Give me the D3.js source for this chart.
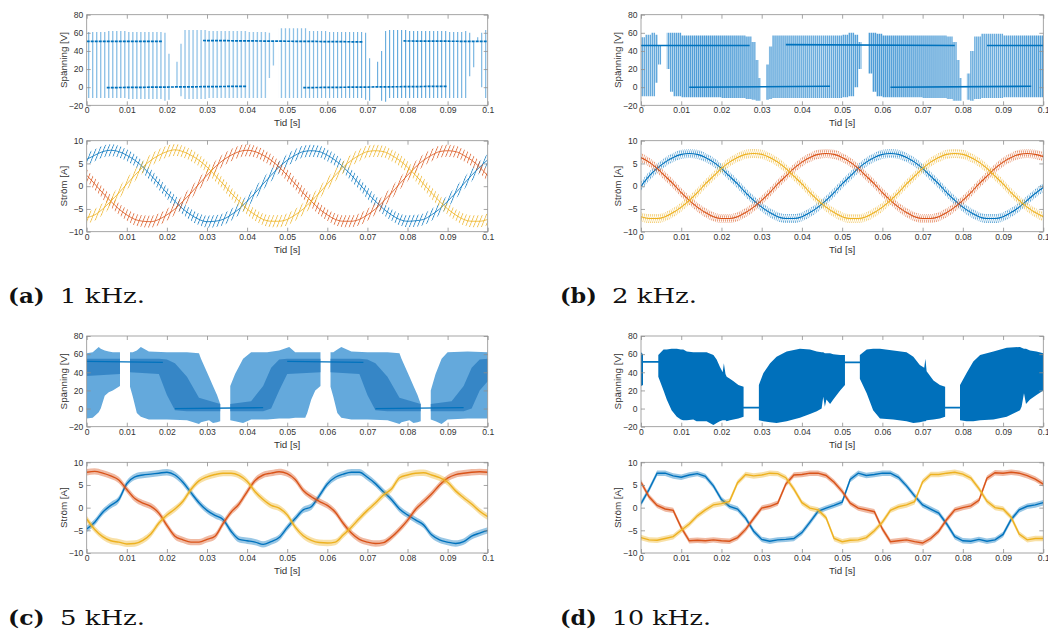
<!DOCTYPE html>
<html>
<head>
<meta charset="utf-8">
<script src="https://cdn.jsdelivr.net/npm/d3@7/dist/d3.min.js"></script>
<style>
  html, body { margin: 0; padding: 0; background: #fff; }
  svg { display: block; }
</style>
</head>
<body>
<svg id="fig" width="1048" height="631"></svg>
<script>
// ---------- axes ----------
const timeTicks = [0, 0.01, 0.02, 0.03, 0.04, 0.05, 0.06, 0.07, 0.08, 0.09, 0.1];
const timeTickLabels = ["0", "0.01", "0.02", "0.03", "0.04", "0.05", "0.06", "0.07", "0.08", "0.09", "0.1"];
const voltTicks = [-20, 0, 20, 40, 60, 80];
const currTicks = [-10, -5, 0, 5, 10];

// ---------- phase currents, sampled every 2 ms ----------
const tSamples = [0, 0.002, 0.004, 0.006, 0.008, 0.01, 0.012, 0.014, 0.016, 0.018, 0.02, 0.022, 0.024, 0.026, 0.028, 0.03, 0.032, 0.034, 0.036, 0.038, 0.04, 0.042, 0.044, 0.046, 0.048, 0.05, 0.052, 0.054, 0.056, 0.058, 0.06, 0.062, 0.064, 0.066, 0.068, 0.07, 0.072, 0.074, 0.076, 0.078, 0.08, 0.082, 0.084, 0.086, 0.088, 0.09, 0.092, 0.094, 0.096, 0.098, 0.1];

// (a) 1 kHz
const iA_blue = [5.9, 6.8, 7.6, 7.9, 7.6, 6.8, 5.7, 4.2, 2.4, 0.5, -1.5, -3.3, -5.0, -6.3, -7.3, -7.8, -7.7, -7.3, -6.3, -5.0, -3.3, -1.5, 0.5, 2.4, 4.2, 5.7, 6.8, 7.6, 7.8, 7.6, 6.8, 5.7, 4.2, 2.4, 0.5, -1.5, -3.3, -5.0, -6.3, -7.3, -7.7, -7.6, -7.3, -6.3, -5.0, -3.3, -1.5, 0.5, 2.4, 4.2, 5.8];
const iA_orange = [2.4, 0.5, -1.5, -3.3, -5.0, -6.3, -7.3, -7.7, -7.8, -7.3, -6.3, -5.0, -3.3, -1.5, 0.5, 2.4, 4.2, 5.7, 6.8, 7.6, 7.9, 7.6, 6.8, 5.7, 4.2, 2.4, 0.5, -1.5, -3.3, -5.0, -6.3, -7.3, -7.7, -7.7, -7.3, -6.3, -5.0, -3.3, -1.5, 0.5, 2.4, 4.2, 5.7, 6.8, 7.6, 7.8, 7.6, 6.8, 5.7, 4.2, 2.3];
const iA_yellow = [-6.9, -6.3, -5.0, -3.3, -1.5, 0.5, 2.4, 4.2, 5.7, 6.8, 7.6, 8.0, 7.6, 6.8, 5.7, 4.2, 2.4, 0.5, -1.5, -3.3, -5.0, -6.3, -7.3, -7.7, -7.7, -7.3, -6.3, -5.0, -3.3, -1.5, 0.5, 2.4, 4.2, 5.7, 6.8, 7.6, 7.8, 7.6, 6.8, 5.7, 4.2, 2.4, 0.5, -1.5, -3.3, -5.0, -6.3, -7.3, -7.7, -7.7, -7.3];

// (b) 2 kHz
const iB_blue = [0.0, 2.2, 3.9, 5.3, 6.3, 7.0, 7.2, 7.0, 6.3, 5.3, 3.9, 2.2, 0.5, -1.4, -3.1, -4.6, -5.8, -6.7, -7.1, -7.1, -6.7, -5.8, -4.6, -3.1, -1.4, 0.5, 2.2, 3.9, 5.3, 6.3, 7.0, 7.2, 7.0, 6.3, 5.3, 3.9, 2.2, 0.5, -1.4, -3.1, -4.6, -5.8, -6.7, -7.1, -7.1, -6.7, -5.8, -4.6, -3.1, -1.6, -0.3];
const iB_orange = [6.3, 5.3, 3.9, 2.2, 0.5, -1.4, -3.1, -4.6, -5.8, -6.7, -7.1, -7.1, -6.7, -5.8, -4.6, -3.1, -1.4, 0.5, 2.2, 3.9, 5.3, 6.3, 7.0, 7.2, 7.0, 6.3, 5.3, 3.9, 2.2, 0.5, -1.4, -3.1, -4.6, -5.8, -6.7, -7.1, -7.1, -6.7, -5.8, -4.6, -3.1, -1.4, 0.5, 2.2, 3.9, 5.3, 6.3, 7.0, 7.2, 7.0, 6.5];
const iB_yellow = [-6.7, -7.1, -7.1, -6.7, -5.8, -4.6, -3.1, -1.4, 0.5, 2.2, 3.9, 5.3, 6.3, 7.0, 7.2, 7.0, 6.3, 5.3, 3.9, 2.2, 0.5, -1.4, -3.1, -4.6, -5.8, -6.7, -7.1, -7.1, -6.7, -5.8, -4.6, -3.1, -1.4, 0.5, 2.2, 3.9, 5.3, 6.3, 7.0, 7.2, 7.0, 6.3, 5.3, 3.9, 2.2, 0.5, -1.4, -3.1, -4.6, -5.8, -6.7];

// (c) 5 kHz
const iC_blue = [-4.7, -3.2, -1.0, 0.5, 1.8, 5.3, 6.8, 7.2, 7.4, 7.6, 7.8, 7.2, 5.6, 3.3, 1.1, -0.6, -1.7, -2.6, -5.2, -7.0, -7.3, -7.6, -8.1, -7.5, -6.6, -4.4, -2.4, -0.5, 0.2, 2.6, 5.2, 6.7, 7.4, 7.8, 7.8, 6.7, 5.3, 3.5, 1.8, -0.3, -1.6, -2.7, -3.8, -6.0, -7.1, -7.6, -7.9, -7.5, -6.3, -5.6, -5.0];
const iC_orange = [7.8, 8.0, 7.6, 7.0, 6.1, 4.0, 2.0, 1.0, 0.3, -1.2, -3.9, -6.3, -7.1, -7.6, -7.6, -7.0, -6.3, -3.5, -1.0, 0.8, 3.5, 6.0, 7.2, 7.6, 7.9, 7.5, 6.2, 3.8, 2.4, 1.4, 0.5, -1.0, -3.5, -5.6, -7.0, -7.6, -7.9, -7.7, -6.5, -4.8, -2.8, -0.4, 1.3, 3.0, 5.0, 6.5, 7.3, 7.6, 7.8, 7.9, 7.8];
const iC_yellow = [-2.5, -4.8, -6.4, -7.3, -7.6, -8.0, -7.9, -7.2, -5.8, -3.4, -1.6, -0.3, 1.4, 4.0, 5.9, 6.8, 7.3, 7.6, 7.6, 7.1, 5.8, 3.5, 1.8, 0.5, -0.1, -1.6, -4.3, -6.2, -7.2, -7.7, -7.8, -7.6, -6.0, -4.3, -2.4, -0.6, 1.0, 2.8, 4.1, 6.6, 7.2, 7.6, 7.7, 7.2, 6.6, 5.6, 3.7, 2.2, 0.8, -0.8, -2.0];

// (d) 10 kHz
const iD_blue = [0.9, 4.0, 7.6, 7.6, 7.0, 6.7, 7.2, 7.5, 6.9, 4.8, 1.8, 0.3, -0.3, -2.3, -5.2, -7.0, -7.4, -7.1, -7.0, -6.8, -5.5, -3.2, -0.8, -0.1, 0.5, 1.2, 6.2, 7.6, 7.1, 7.3, 7.6, 7.6, 6.7, 4.8, 2.6, 0.6, -0.3, -1.2, -3.6, -6.4, -7.3, -7.4, -7.0, -7.4, -7.1, -5.9, -2.6, -0.5, 0.3, 0.6, 1.1];
const iD_orange = [5.6, 2.4, 0.5, -0.3, -0.6, -4.4, -7.3, -7.2, -7.3, -7.1, -7.3, -7.4, -6.6, -4.8, -2.4, -0.1, 0.3, 1.0, 5.2, 7.2, 7.3, 7.6, 7.6, 7.1, 5.6, 3.6, 1.0, -0.1, -0.5, -0.9, -4.7, -7.5, -7.3, -7.1, -7.5, -7.8, -6.8, -5.2, -2.6, -0.5, 0.0, 0.4, 1.6, 6.5, 7.7, 7.6, 7.8, 7.6, 7.05, 6.3, 5.2];
const iD_yellow = [-6.6, -7.1, -7.2, -6.8, -6.4, -5.0, -3.6, -1.8, -0.5, 0.6, 0.9, 1.4, 5.5, 7.3, 7.0, 7.2, 7.6, 7.5, 6.6, 4.1, 1.1, -0.1, -0.5, -2.2, -6.8, -7.5, -7.2, -7.1, -6.6, -5.1, -3.2, -0.6, 0.2, 0.6, 1.3, 5.7, 7.3, 7.3, 7.6, 7.8, 7.4, 6.5, 4.2, 1.4, 0.0, -0.3, -2.1, -5.8, -7.1, -6.8, -6.8];

// half peak-to-peak switching ripple on the currents [A]
const rippleA = [1.3, 1.0, 0.7, 0.6];

// ---------- phase voltage: pulse envelopes (top / bottom) ----------
// (a) 1 kHz, each value holds until the next instant
const vA_t = [0, 0.005, 0.0099, 0.0189, 0.0199, 0.0209, 0.0219, 0.0229, 0.0239, 0.03, 0.04, 0.0449, 0.0459, 0.0469, 0.0479, 0.055, 0.06, 0.0689, 0.0699, 0.0709, 0.0719, 0.0729, 0.0739, 0.075, 0.08, 0.09, 0.0939, 0.0949, 0.0959, 0.0969, 0.0979, 0.0989, 0.1];
const vA_top = [61, 62, 61, 60, 37, 0, 28, 48, 63, 62, 61, 60, 50, 50, 65, 62, 61, 60, 32, 0, 28, 40, 62, 63, 62, 61, 62, 60, 50, 55, 60, 63, 63];
const vA_bot = [-12, -12, -13, -15, -14, 0, 1, -10, -13, -12, -12, 10, 24, 50, -12, -12, -12, -14, -15, 0, 0, -15, -16, -12, -12, -12, -12, 12, 22, 50, 0, -12, -12];
const vA_levels = [[0, 0.019, 50.5, 50.5], [0.029, 0.069, 51.5, 50], [0.079, 0.1, 51, 50.5], [0.005, 0.040, -0.5, 1], [0.054, 0.090, -0.5, 1]];

// (b) 2 kHz
const vB_t = [0, 0.001, 0.0025, 0.0035, 0.0042, 0.005, 0.0064, 0.0072, 0.008, 0.01, 0.02, 0.026, 0.0275, 0.0285, 0.0292, 0.0297, 0.0311, 0.0318, 0.0326, 0.04, 0.05, 0.0515, 0.053, 0.054, 0.0548, 0.0565, 0.0575, 0.0585, 0.06, 0.07, 0.076, 0.0775, 0.0785, 0.0792, 0.0797, 0.081, 0.0818, 0.0828, 0.0845, 0.09, 0.1];
const vB_top = [55, 58, 60, 58, 46, 46, 60, 60, 60, 57, 57, 56, 50, 30, 10, 0, 25, 45, 57, 57, 58, 60, 58, 50, 46, 60, 60, 59, 57, 57, 56, 50, 30, 10, 0, 15, 40, 56, 59, 57, 57];
const vB_bot = [-10, -10, -10, 5, 25, 46, 20, -5, -10, -11, -12, -13, -14, -15, -15, 0, -14, -13, -12, -12, -11, -10, 0, 20, 46, 15, -5, -10, -11, -12, -13, -15, -15, -15, 0, -14, -15, -13, -12, -11, -11];
const vB_levels = [[0, 0.027, 46, 46], [0.036, 0.078, 47, 46], [0.086, 0.1, 46, 46], [0.012, 0.047, 0, 1], [0.062, 0.097, 0, 1]];

// (c) 5 kHz, null marks an interval without switching
const vC_t = [0, 0.0015, 0.003, 0.0035, 0.0045, 0.0055, 0.0065, 0.0083, 0.0095, 0.0108, 0.0115, 0.0125, 0.0135, 0.0155, 0.02, 0.025, 0.028, 0.0285, 0.0295, 0.0305, 0.0315, 0.0325, 0.0333, 0.0345, 0.0358, 0.037, 0.039, 0.041, 0.045, 0.048, 0.0505, 0.052, 0.0545, 0.055, 0.056, 0.057, 0.0583, 0.0595, 0.0608, 0.0615, 0.0625, 0.0635, 0.066, 0.07, 0.075, 0.078, 0.0785, 0.0795, 0.0805, 0.0815, 0.0825, 0.0833, 0.0845, 0.0858, 0.087, 0.0885, 0.09, 0.095, 0.1];
const vC_top = [61, 62, 68, 66, 64, 63, 62, 62, null, 62, 62, 64, 68, 63, 62, 62, 61, 55, 45, 35, 25, 15, 5, null, 25, 38, 55, 62, 62, 64, 68, 62, 62, 62, 62, 62, 62, null, 62, 62, 65, 68, 63, 62, 62, 61, 55, 45, 35, 25, 15, 5, null, 20, 38, 55, 62, 63, 62];
const vC_bot = [-11, -10, -4, 0, 14, 18, 20, 25, null, 24, 13, -5, -9, -12, -12, -13, -17, -15, -14, -13, -16, -15, -14, null, -13, -14, -16, -12, -12, -11, -11, -10, -10, -5, 10, 20, 25, null, 24, 13, -5, -10, -12, -12, -13, -17, -15, -14, -13, -16, -15, -14, null, -12, -14, -17, -12, -11, -11];
// dense core of the pulse train
const vC_coreT = [0, 0.0083, 0.0095, 0.0108, 0.018, 0.02, 0.022, 0.025, 0.028, 0.0333, 0.0345, 0.0358, 0.041, 0.044, 0.046, 0.048, 0.05, 0.0583, 0.0595, 0.0608, 0.068, 0.07, 0.072, 0.075, 0.078, 0.0833, 0.0845, 0.0858, 0.091, 0.094, 0.096, 0.098, 0.1];
const vC_coreTop = [55, 55, null, 55, 55, 54, 50, 35, 12, 5, null, 5, 8, 25, 45, 54, 55, 55, null, 55, 55, 54, 50, 35, 12, 5, null, 5, 8, 25, 45, 54, 55];
const vC_coreBot = [36, 38, null, 40, 38, 15, -2, -3, -3, -3, null, -3, -3, -3, 0, 20, 38, 40, null, 40, 38, 15, -2, -3, -3, -3, null, -3, -3, -3, 0, 20, 30];
const vC_levels = [[0, 0.019, 52, 51], [0.05, 0.069, 52, 51], [0.022, 0.044, 0, 1], [0.072, 0.094, 0, 1]];

// (d) 10 kHz
const vD_t = [0, 0.0005, 0.002, 0.0043, 0.0056, 0.0064, 0.0076, 0.0089, 0.0099, 0.0105, 0.0114, 0.013, 0.0138, 0.0163, 0.018, 0.0188, 0.0196, 0.0203, 0.0206, 0.021, 0.0213, 0.0221, 0.023, 0.0242, 0.0255, 0.027, 0.0293, 0.0304, 0.0321, 0.0337, 0.0362, 0.0395, 0.042, 0.0437, 0.0449, 0.0453, 0.0457, 0.0461, 0.047, 0.0478, 0.0495, 0.0507, 0.052, 0.0544, 0.0561, 0.0577, 0.0594, 0.0627, 0.066, 0.0677, 0.0693, 0.0704, 0.0707, 0.071, 0.0727, 0.0743, 0.0756, 0.077, 0.0793, 0.0809, 0.0826, 0.0843, 0.0876, 0.0909, 0.0942, 0.0946, 0.0952, 0.0957, 0.0967, 0.0983, 0.1];
const vD_top = [62, 60, null, 59, 65, 65, 66, 66, 65, 65, 63, 62, 62, 62, 59, 54, 46, 40, 50, 38, 35, 33, 30, 26, 24, null, 26, 39, 50, 57, 63, 66, 65, 63, 62, 62, 61, 61, 61, 60, 59, 59, null, 59, 65, 66, 66, 64, 62, 57, 48, 45, 55, 41, 31, 26, 24, null, 26, 39, 52, 59, 63, 67, 68, 67, 66, 66, 64, 63, 61];
const vD_bot = [25, 26, null, 35, 20, 10, -2, -9, -12, -13, -13, -12, -14, -14, -18, -16, -14, -13, -13, -13, -14, -13, -12, -11, -9, null, -13, -14, -15, -16, -14, -10, -6, -3, 0, 13, 2, 10, 5, 10, 20, 26, null, 33, 17, -2, -11, -12, -14, -16, -15, -14, -14, -13, -12, -11, -9, null, -13, -14, -14, -13, -12, -9, -2, 2, 17, 5, 10, 15, 20];
const vD_levels = [[0, 0.0046, 51.5, 51.5], [0.0504, 0.0547, 51, 51], [0.0252, 0.0296, 1, 1], [0.0753, 0.0796, 1, 1]];

// switching periods [s]
const switchPeriod = [0.001, 0.0005, 0.0002, 0.0001];

// ---------- captions ----------
const capTags = ["(a)", "(b)", "(c)", "(d)"];
const capTexts = ["1 kHz.", "2 kHz.", "5 kHz.", "10 kHz."];

// ================= drawing =================
const svg = d3.select("#fig");
const defs = svg.append("defs");
const FONT = "'Liberation Sans', Arial, Helvetica, sans-serif";
const SERIF = "'DejaVu Serif', 'Liberation Serif', serif";
const PHASE = ["#0072BD", "#D95319", "#EDB120"];
const AXC = "#8f8f8f";
const TXT = "#333333";

const colX = [[86.7, 487.7], [641, 1043.3]];
const rowV = [[14.7, 105.3], [336, 426.7]];
const rowI = [[140.7, 231.7], [462.3, 553]];

let uid = 0;
function makeAxes(xr, yr, yDomain, yTicks, yLabel) {
  const x = d3.scaleLinear().domain([0, 0.1]).range(xr);
  const y = d3.scaleLinear().domain(yDomain).range([yr[1], yr[0]]);
  const id = "clip" + (uid++);
  defs.append("clipPath").attr("id", id).append("rect")
    .attr("x", xr[0]).attr("y", yr[0]).attr("width", xr[1] - xr[0]).attr("height", yr[1] - yr[0]);
  const plot = svg.append("g").attr("clip-path", `url(#${id})`);
  return { x, y, xr, yr, yTicks, yLabel, plot };
}

function drawFrame(ax) {
  const { x, y, xr, yr } = ax;
  const g = svg.append("g");
  g.append("rect").attr("x", xr[0]).attr("y", yr[0])
    .attr("width", xr[1] - xr[0]).attr("height", yr[1] - yr[0])
    .attr("fill", "none").attr("stroke", AXC).attr("stroke-width", 0.8);
  g.append("g").attr("transform", `translate(0,${yr[1]})`)
    .call(d3.axisBottom(x).tickValues(timeTicks).tickFormat((d, i) => timeTickLabels[i])
      .tickSizeInner(-4).tickSizeOuter(0).tickPadding(2));
  g.append("g").attr("transform", `translate(0,${yr[0]})`)
    .call(d3.axisTop(x).tickValues(timeTicks).tickFormat("").tickSizeInner(-4).tickSizeOuter(0));
  g.append("g").attr("transform", `translate(${xr[0]},0)`)
    .call(d3.axisLeft(y).tickValues(ax.yTicks).tickFormat(d3.format("d"))
      .tickSizeInner(-4).tickSizeOuter(0).tickPadding(3.4));
  g.append("g").attr("transform", `translate(${xr[1]},0)`)
    .call(d3.axisRight(y).tickValues(ax.yTicks).tickFormat("").tickSizeInner(-4).tickSizeOuter(0));
  g.selectAll(".domain").remove();
  g.selectAll(".tick line").attr("stroke", AXC).attr("stroke-width", 0.8);
  g.selectAll(".tick text").attr("fill", TXT).attr("font-size", 8.6).attr("font-family", FONT);
  g.append("text").attr("x", (xr[0] + xr[1]) / 2).attr("y", yr[1] + 20.8)
    .attr("text-anchor", "middle").attr("font-family", FONT).attr("font-size", 9.8)
    .attr("fill", TXT).text("Tid [s]");
  g.append("text")
    .attr("transform", `translate(${xr[0] - 20.2},${(yr[0] + yr[1]) / 2}) rotate(-90)`)
    .attr("text-anchor", "middle").attr("font-family", FONT).attr("font-size", 9.8)
    .attr("fill", TXT).text(ax.yLabel);
}

// vertical hairlines repeating once per switching period
function stripePattern(x, period, phase, lineColor, lineW, bg, skew) {
  const id = "pat" + (uid++);
  const p = x(period) - x(0);
  const pat = defs.append("pattern").attr("id", id).attr("patternUnits", "userSpaceOnUse")
    .attr("width", p).attr("height", 631)
    .attr("patternTransform", `translate(${x(phase)},0)` + (skew ? ` skewX(${skew})` : ""));
  if (bg) pat.append("rect").attr("width", p).attr("height", 631).attr("fill", bg);
  pat.append("rect").attr("x", 0).attr("width", lineW).attr("height", 631).attr("fill", lineColor);
  return `url(#${id})`;
}

function envelope(tArr, topArr, botArr) {
  return tArr.map((t, i) => ({ t, top: topArr[i], bot: botArr[i] }));
}

function drawLevels(ax, levels, width, dash) {
  const line = d3.line().x(d => ax.x(d[0])).y(d => ax.y(d[1]));
  levels.forEach(([t0, t1, v0, v1]) => {
    const p = ax.plot.append("path").attr("d", line([[t0, v0], [t1, v1]]))
      .attr("fill", "none").attr("stroke", PHASE[0]).attr("stroke-width", width);
    if (dash) p.attr("stroke-dasharray", dash);
  });
}

function drawCurrents(ax, series, ripple, curve, fillFor, bandOpacity, lineW) {
  series.forEach((vals, s) => {
    const pts = tSamples.map((t, i) => [t, vals[i]]);
    const band = d3.area().curve(curve).x(d => ax.x(d[0]))
      .y0(d => ax.y(d[1] - ripple)).y1(d => ax.y(d[1] + ripple));
    ax.plot.append("path").attr("d", band(pts))
      .attr("fill", fillFor(s)).attr("fill-opacity", bandOpacity);
    const line = d3.line().curve(curve).x(d => ax.x(d[0])).y(d => ax.y(d[1]));
    ax.plot.append("path").attr("d", line(pts)).attr("fill", "none")
      .attr("stroke", PHASE[s]).attr("stroke-width", lineW);
  });
}

// ---- (a) 1 kHz ----
{
  const av = makeAxes(colX[0], rowV[0], [-20, 80], voltTicks, "Spänning [V]");
  const fill = stripePattern(av.x, switchPeriod[0], 0.0004, "#3d95d4", 1, null);
  const area = d3.area().curve(d3.curveStepAfter).x(d => av.x(d.t)).y0(d => av.y(d.bot)).y1(d => av.y(d.top));
  av.plot.append("path").attr("d", area(envelope(vA_t, vA_top, vA_bot))).attr("fill", fill).attr("opacity", 0.8);
  drawLevels(av, vA_levels, 1.7, "3,1.01");
  drawFrame(av);

  const ai = makeAxes(colX[0], rowI[0], [-10, 10], currTicks, "Ström [A]");
  const combs = PHASE.map(c => stripePattern(ai.x, switchPeriod[0], 0.0002, c, 0.9, null, -22));
  drawCurrents(ai, [iA_blue, iA_orange, iA_yellow], rippleA[0], d3.curveMonotoneX, s => combs[s], 0.8, 0.8);
  drawFrame(ai);
}

// ---- (b) 2 kHz ----
{
  const bv = makeAxes(colX[1], rowV[0], [-20, 80], voltTicks, "Spänning [V]");
  const fill = stripePattern(bv.x, switchPeriod[1], 0.0002, "#4c9bd6", 1, "#bddbf0");
  const area = d3.area().curve(d3.curveStepAfter).x(d => bv.x(d.t)).y0(d => bv.y(d.bot)).y1(d => bv.y(d.top));
  bv.plot.append("path").attr("d", area(envelope(vB_t, vB_top, vB_bot))).attr("fill", fill);
  drawLevels(bv, vB_levels, 1.6);
  drawFrame(bv);

  const bi = makeAxes(colX[1], rowI[0], [-10, 10], currTicks, "Ström [A]");
  const combs = PHASE.map(c => stripePattern(bi.x, switchPeriod[1], 0.0001, c, 0.8, null, -15));
  drawCurrents(bi, [iB_blue, iB_orange, iB_yellow], rippleA[1], d3.curveMonotoneX, s => combs[s], 0.6, 1.1);
  drawFrame(bi);
}

// ---- (c) 5 kHz ----
{
  const cv = makeAxes(colX[0], rowV[1], [-20, 80], voltTicks, "Spänning [V]");
  const area = d3.area().defined(d => d.top != null).x(d => cv.x(d.t))
    .y0(d => cv.y(d.bot)).y1(d => cv.y(d.top));
  cv.plot.append("path").attr("d", area(envelope(vC_t, vC_top, vC_bot))).attr("fill", "#64a9dc");
  cv.plot.append("path").attr("d", area(envelope(vC_coreT, vC_coreTop, vC_coreBot))).attr("fill", "#2a7dc0").attr("opacity", 0.8);
  drawLevels(cv, vC_levels, 1.3);
  drawFrame(cv);

  const ci = makeAxes(colX[0], rowI[1], [-10, 10], currTicks, "Ström [A]");
  drawCurrents(ci, [iC_blue, iC_orange, iC_yellow], rippleA[2], d3.curveMonotoneX, s => PHASE[s], 0.4, 1.4);
  drawFrame(ci);
}

// ---- (d) 10 kHz ----
{
  const dv = makeAxes(colX[1], rowV[1], [-20, 80], voltTicks, "Spänning [V]");
  const area = d3.area().defined(d => d.top != null).x(d => dv.x(d.t))
    .y0(d => dv.y(d.bot)).y1(d => dv.y(d.top));
  dv.plot.append("path").attr("d", area(envelope(vD_t, vD_top, vD_bot))).attr("fill", "#0070bb");
  drawLevels(dv, vD_levels, 1.8);
  drawFrame(dv);

  const di = makeAxes(colX[1], rowI[1], [-10, 10], currTicks, "Ström [A]");
  drawCurrents(di, [iD_blue, iD_orange, iD_yellow], rippleA[3], d3.curveLinear, s => PHASE[s], 0.4, 1.4);
  drawFrame(di);
}

// ---- captions ----
const capAnchor = [[8, 302.5], [560, 302.5], [8, 625], [560, 625]];
const capWidth = [85, 85, 85, 99];
capTags.forEach((tag, i) => {
  const [cx, cy] = capAnchor[i];
  svg.append("text").attr("x", cx).attr("y", cy).attr("font-family", SERIF)
    .attr("font-weight", "bold").attr("font-size", 20).attr("fill", "#111")
    .attr("textLength", 36.7).attr("lengthAdjust", "spacingAndGlyphs").text(tag);
  svg.append("text").attr("x", cx + 52).attr("y", cy).attr("font-family", SERIF)
    .attr("font-size", 20).attr("fill", "#111")
    .attr("textLength", capWidth[i]).attr("lengthAdjust", "spacingAndGlyphs").text(capTexts[i]);
});
</script>
</body>
</html>
